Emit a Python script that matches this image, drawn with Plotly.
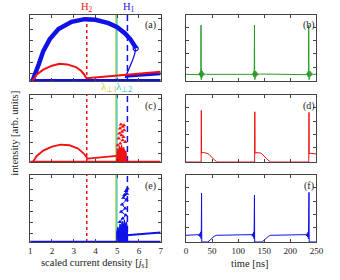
import plotly.graph_objects as go

# ---------------- data ----------------
# vertical marker positions (scaled current density)
H2 = 3.6
H1 = 5.47
LAM1 = 4.95
LAM2 = 4.99

# panel (a)
a_blue_low_x = [1.0, 7.0]
a_blue_low_y = [0.01, 0.01]
a_blue_band_x = [1.1, 1.25, 1.4, 1.6, 1.9, 2.3, 2.9, 3.5, 4.0, 4.6, 5.0, 5.35, 5.6, 5.8, 5.85]
a_blue_band_y = [0.0, 0.12, 0.26, 0.45, 0.63, 0.78, 0.89, 0.93, 0.92, 0.87, 0.81, 0.72, 0.63, 0.53, 0.49]
a_blue_unst_x = [5.85, 5.8, 5.7, 5.6, 5.5, 5.42, 5.37]
a_blue_unst_y = [0.49, 0.40, 0.31, 0.23, 0.16, 0.10, 0.05]
a_blue_up_x = [5.37, 7.0]
a_blue_up_y = [0.07, 0.11]
a_red_arc_x = [1.1, 1.3, 1.6, 2.0, 2.35, 2.7, 3.1, 3.35, 3.5, 3.58]
a_red_arc_y = [0.0, 0.10, 0.17, 0.23, 0.26, 0.25, 0.21, 0.15, 0.09, 0.04]
a_red_line_x = [3.58, 7.0]
a_red_line_y = [0.04, 0.14]

# panel (c)
c_red_low_x = [1.0, 7.0]
c_red_low_y = [0.005, 0.005]
c_red_arc_x = [1.12, 1.3, 1.6, 2.0, 2.4, 2.8, 3.2, 3.45, 3.6, 3.63]
c_red_arc_y = [0.0, 0.09, 0.17, 0.23, 0.26, 0.25, 0.20, 0.13, 0.07, 0.04]
c_red_line_x = [3.63, 4.97]
c_red_line_y = [0.05, 0.09]
c_red_block_x = [4.97, 4.97, 5.0, 5.05, 5.1, 5.15, 5.2, 5.25, 5.3, 5.35, 5.4, 5.43, 5.43]
c_red_block_y = [0.0, 0.12, 0.20, 0.16, 0.24, 0.19, 0.25, 0.18, 0.22, 0.15, 0.17, 0.08, 0.0]
c_red_pts_x = [5.17, 5.25, 5.13, 5.32, 5.10, 5.20, 5.29, 5.07, 5.25, 5.37, 5.14, 5.02, 5.22, 5.31]
c_red_pts_y = [0.56, 0.525, 0.50, 0.475, 0.425, 0.40, 0.375, 0.35, 0.325, 0.30, 0.275, 0.25, 0.45, 0.55]

# panel (e)
e_blue_low_x = [1.0, 7.0]
e_blue_low_y = [0.005, 0.005]
e_blue_block_x = [4.98, 4.98, 5.03, 5.08, 5.13, 5.18, 5.23, 5.28, 5.33, 5.38, 5.43, 5.47, 5.47]
e_blue_block_y = [0.0, 0.15, 0.22, 0.17, 0.27, 0.21, 0.31, 0.24, 0.33, 0.26, 0.30, 0.2, 0.0]
e_blue_saw_x = [5.12, 5.25, 5.40, 5.18, 5.37, 5.22, 5.43, 5.28, 5.45, 5.33, 5.47, 5.40]
e_blue_saw_y = [0.30, 0.35, 0.40, 0.45, 0.50, 0.56, 0.63, 0.66, 0.72, 0.70, 0.80, 0.76]
e_blue_line_x = [5.43, 7.0]
e_blue_line_y = [0.10, 0.14]

# panel (b) green time trace
b_t = [0, 20, 22, 23.5, 24.5, 25.3, 26, 26.7, 27.3, 27.9, 28.4, 28.8, 29.2, 29.7, 30.3, 30.9, 31.6, 32.4, 33.3, 34.3, 35.5, 37, 39,
       122, 124, 125.5, 126.5, 127.3, 128, 128.7, 129.3, 129.9, 130.4, 130.8, 131.2, 131.7, 132.3, 132.9, 133.6, 134.4, 135.3, 136.3, 137.5, 139, 141,
       226, 228, 229.5, 230.5, 231.3, 232, 232.7, 233.3, 233.9, 234.4, 234.8, 235.2, 235.7, 236.3, 236.9, 237.6, 238.4, 239.3, 240.3, 241.5, 243, 250]
b_y = [0.1, 0.1, 0.105, 0.095, 0.11, 0.09, 0.12, 0.08, 0.14, 0.06, 0.2, 0.84, 0.02, 0.17, 0.05, 0.15, 0.07, 0.13, 0.085, 0.115, 0.095, 0.105, 0.1,
       0.1, 0.1, 0.105, 0.095, 0.11, 0.09, 0.12, 0.08, 0.14, 0.06, 0.2, 0.84, 0.02, 0.17, 0.05, 0.15, 0.07, 0.13, 0.085, 0.115, 0.095, 0.105, 0.1,
       0.1, 0.105, 0.095, 0.11, 0.09, 0.12, 0.08, 0.14, 0.06, 0.2, 0.84, 0.02, 0.17, 0.05, 0.15, 0.07, 0.13, 0.085, 0.115, 0.095, 0.105, 0.1]

# panel (d) red time trace
d_t = [0, 29.0, 29.4, 29.8, 31, 35, 39, 42, 45, 48, 51, 54, 57, 59,
       131.5, 131.9, 132.3, 134, 138, 142, 145, 148, 151, 154, 157, 160, 162,
       235.3, 235.7, 236.1, 238, 242, 246, 250]
d_y = [0.0, 0.0, 0.77, 0.13, 0.14, 0.14, 0.135, 0.125, 0.105, 0.08, 0.055, 0.03, 0.008, 0.0,
       0.0, 0.75, 0.13, 0.14, 0.14, 0.135, 0.125, 0.105, 0.08, 0.055, 0.03, 0.008, 0.0,
       0.0, 0.74, 0.12, 0.13, 0.13, 0.125, 0.12]

# panel (f) blue time trace
f_t = [0, 22, 24, 25, 26, 27, 28, 28.8, 29.4, 29.8, 30.2, 42, 46, 50, 54, 58,
       124, 126, 127, 128, 129, 130, 130.4, 130.8, 131.2, 131.6, 146, 150, 154, 158, 162,
       228, 230, 231, 232, 233, 234, 234.6, 235.1, 235.7, 236.1, 250]
f_y = [0.1, 0.1, 0.11, 0.09, 0.125, 0.075, 0.15, 0.05, 0.2, 0.73, 0.0, 0.0, 0.03, 0.06, 0.085, 0.1,
       0.1, 0.11, 0.09, 0.125, 0.075, 0.15, 0.05, 0.2, 0.70, 0.0, 0.0, 0.03, 0.06, 0.085, 0.1,
       0.1, 0.11, 0.09, 0.125, 0.075, 0.15, 0.05, 0.2, 0.74, 0.0, 0.0]

# ---------------- figure ----------------
BLUE = "#1010e8"
RED = "#f01010"
GREEN = "#2a9a2a"
YG = "#a8c838"
CYAN = "#40c8c8"
FONT = "Liberation Serif"

fig = go.Figure()

def line(x, y, color, width, xa, ya, dash=None, mode="lines", **kw):
    fig.add_trace(go.Scatter(x=x, y=y, mode=mode, xaxis=xa, yaxis=ya,
                             line=dict(color=color, width=width, dash=dash),
                             showlegend=False, hoverinfo="skip", **kw))

def vlines(xa, ya):
    line([H2, H2], [0, 1], RED, 1.5, xa, ya, dash="dot")
    line([LAM1, LAM1], [0, 1], YG, 1.5, xa, ya)
    line([LAM2, LAM2], [0, 1], CYAN, 1.2, xa, ya)
    line([H1, H1], [0, 1], BLUE, 1.5, xa, ya, dash="6px,4px")

# (a)
vlines("x", "y")
line(a_blue_low_x, a_blue_low_y, BLUE, 2.5, "x", "y")
line(a_blue_up_x, a_blue_up_y, BLUE, 3, "x", "y")
line(a_blue_unst_x, a_blue_unst_y, BLUE, 1.3, "x", "y")
line(a_blue_band_x, a_blue_band_y, BLUE, 4.5, "x", "y")
line(a_blue_band_x[-1:], a_blue_band_y[-1:], BLUE, 1, "x", "y", mode="markers",
     marker=dict(symbol="circle-open", size=5, color=BLUE, line=dict(width=1.2, color=BLUE)))
line(a_red_arc_x, a_red_arc_y, RED, 2, "x", "y")
line(a_red_line_x, a_red_line_y, RED, 2, "x", "y")

# (c)
vlines("x3", "y3")
line(c_red_low_x, c_red_low_y, RED, 2, "x3", "y3")
line(c_red_arc_x, c_red_arc_y, RED, 1.8, "x3", "y3")
line(c_red_line_x, c_red_line_y, RED, 1.8, "x3", "y3")
line(c_red_block_x, c_red_block_y, RED, 1, "x3", "y3", fill="toself", fillcolor=RED)
line(c_red_pts_x, c_red_pts_y, RED, 1, "x3", "y3", mode="markers",
     marker=dict(symbol="triangle-up", size=4, color=RED))

# (e)
vlines("x5", "y5")
line(e_blue_low_x, e_blue_low_y, BLUE, 2, "x5", "y5")
line(e_blue_block_x, e_blue_block_y, BLUE, 1, "x5", "y5", fill="toself", fillcolor=BLUE)
line(e_blue_saw_x, e_blue_saw_y, BLUE, 1, "x5", "y5")
line(e_blue_saw_x, e_blue_saw_y, BLUE, 1, "x5", "y5", mode="markers",
     marker=dict(symbol="triangle-up", size=4, color=BLUE))
line(e_blue_line_x, e_blue_line_y, BLUE, 2, "x5", "y5")

# right column
line(b_t, b_y, GREEN, 1, "x2", "y2")
line(d_t, d_y, RED, 1, "x4", "y4")
line(f_t, f_y, BLUE, 1, "x6", "y6")

# ---------------- layout ----------------
W, H = 340, 280
def fx(px):
    return px / W
def fy(py):
    return 1 - py / H
def px_x(a, b):
    return [fx(a), fx(b)]
def px_y(top, bot):
    return [fy(bot), fy(top)]

LX = px_x(29, 163)
RX = px_x(189, 323)
ROWS = [px_y(14.5, 81), px_y(95, 162), px_y(175, 242)]

axis_style = dict(showline=True, linecolor="#444", linewidth=1, mirror="ticks",
                  ticks="inside", ticklen=3, tickcolor="#444", tickwidth=1,
                  showgrid=False, zeroline=False, fixedrange=True,
                  tickfont=dict(family=FONT, size=9, color="#222"))

layout = dict(width=W, height=H, margin=dict(l=0, r=0, t=0, b=0),
              paper_bgcolor="white", plot_bgcolor="white",
              font=dict(family=FONT, color="#222"))

for i, row in enumerate(ROWS):
    left_n = 2 * i + 1
    right_n = 2 * i + 2
    lx = "xaxis" if left_n == 1 else f"xaxis{left_n}"
    ly = "yaxis" if left_n == 1 else f"yaxis{left_n}"
    rx = f"xaxis{right_n}"
    ry = f"yaxis{right_n}"
    bottom = (i == 2)
    layout[lx] = dict(axis_style, domain=LX, anchor=("y" if left_n == 1 else f"y{left_n}"),
                      range=[1, 7], tick0=1, dtick=1, showticklabels=bottom)
    layout[ly] = dict(axis_style, domain=row, anchor=("x" if left_n == 1 else f"x{left_n}"),
                      range=[0, 1], tick0=0.12, dtick=0.165, showticklabels=False)
    layout[rx] = dict(axis_style, domain=RX, anchor=f"y{right_n}",
                      range=[0, 250], tick0=0, dtick=50, showticklabels=bottom)
    layout[ry] = dict(axis_style, domain=row, anchor=f"x{right_n}",
                      range=[0, 1], tick0=0.21, dtick=0.2, showticklabels=False)

fig.update_layout(**layout)

ann = []
def add_ann(**kw):
    kw.setdefault("showarrow", False)
    kw.setdefault("xanchor", "center")
    kw.setdefault("yanchor", "middle")
    ann.append(kw)

# panel letters
for letter, xr, yr, xv in [("(a)", "x", "y", 6.55), ("(c)", "x3", "y3", 6.55), ("(e)", "x5", "y5", 6.55),
                           ("(b)", "x2", "y2", 236), ("(d)", "x4", "y4", 236), ("(f)", "x6", "y6", 236)]:
    add_ann(text=letter, x=xv, y=0.84, xref=xr, yref=yr,
            font=dict(family=FONT, size=10, color="#222"))
# marker labels
add_ann(text="H<sub>2</sub>", x=H2, y=fy(7.5), xref="x", yref="paper",
        font=dict(family=FONT, size=10.5, color=RED))
add_ann(text="H<sub>1</sub>", x=5.55, y=fy(7.5), xref="x", yref="paper",
        font=dict(family=FONT, size=10.5, color=BLUE))
add_ann(text="λ<sub>⊥1</sub>", x=4.6, y=fy(87), xref="x", yref="paper",
        font=dict(family=FONT, size=11, color="#c8c820"))
add_ann(text="λ<sub>⊥2</sub>", x=5.3, y=fy(87), xref="x", yref="paper",
        font=dict(family=FONT, size=11, color="#30c0c0"))
# axis titles
add_ann(text="scaled current density [<i>j</i><sub>s</sub>]", x=fx(95), y=fy(263),
        xref="paper", yref="paper", font=dict(family=FONT, size=10.5, color="#222"))
add_ann(text="time [ns]", x=fx(255), y=fy(263),
        xref="paper", yref="paper", font=dict(family=FONT, size=10.5, color="#222"))
add_ann(text="intensity [arb. units]", x=fx(12), y=fy(133), textangle=-90,
        xref="paper", yref="paper", font=dict(family=FONT, size=10.5, color="#222"))
fig.update_layout(annotations=ann)

# remove the browser's default 8 px body margin so the figure sits at the window corner
fig.write_html("out.html", config={"displayModeBar": False},
               post_script="document.body.style.margin='0';document.body.style.padding='0';")
